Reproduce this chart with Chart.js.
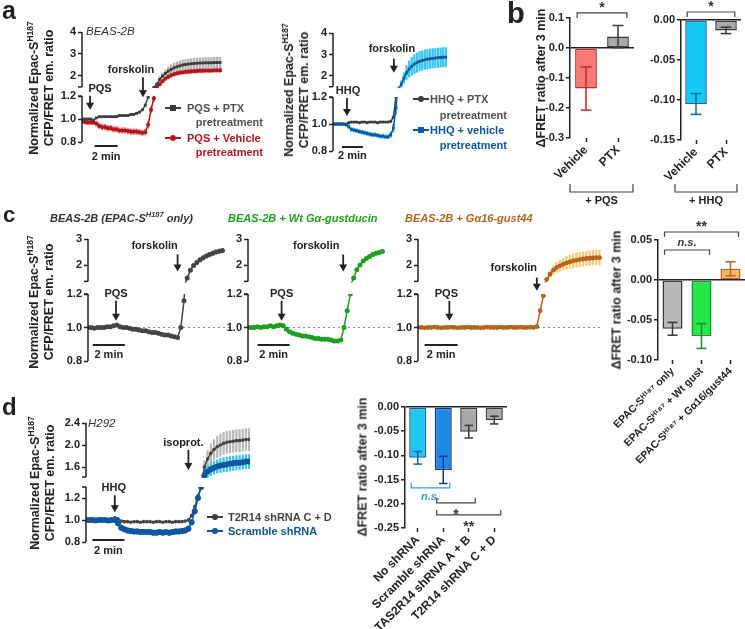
<!DOCTYPE html>
<html>
<head>
<meta charset="utf-8">
<title>Epac-S H187 FRET responses</title>
<script src="https://cdn.jsdelivr.net/npm/chart.js@4.4.1/dist/chart.umd.min.js"></script>
<style>
  html, body { margin: 0; padding: 0; background: #fff; }
  #fig { position: relative; width: 745px; height: 629px; overflow: hidden; font-family: "Liberation Sans", Arial, sans-serif; }
  #fig canvas { position: absolute; left: 0; top: 0; }
  .tx { position: absolute; white-space: nowrap; font-weight: bold; font-size: 11px; line-height: 1; color: #222; }
  .vt { position: absolute; white-space: nowrap; font-weight: bold; font-size: 12.5px; line-height: 15px; color: #222; text-align: center; }
  sup { font-size: 0.68em; line-height: 0; vertical-align: 0.55em; }
  .mk { position: absolute; width: 16px; height: 2px; }
  .mk i { position: absolute; left: 5px; top: -2px; width: 6px; height: 6px; background: inherit; }
  .mk i.o { border-radius: 50%; }
</style>
</head>
<body>
<div id="fig"></div>
<script>
// ---- data ----
// a: BEAS-2B, one read every 0.25 min
const A_STEP = 0.25;
const A1_PTX = [1.00,1.00,1.00,1.00,0.99,1.01,1.02,1.02,1.02,1.02,
  1.02,1.02,1.02,1.03,1.03,1.03,1.03,1.04,1.04,1.05,
  1.06,1.08,1.12,1.19,1.35,1.48,1.62,1.85,2.00,2.12,
  2.22,2.30,2.37,2.42,2.46,2.50,2.52,2.54,2.56,2.57,
  2.58,2.59,2.59,2.60,2.60,2.60,2.61,2.61,2.61];
const A1_PTX_ERR = [0.008,0.008,0.008,0.008,0.008,0.008,0.008,0.008,0.008,0.008,
  0.008,0.008,0.008,0.008,0.008,0.008,0.008,0.008,0.008,0.008,
  0.008,0.008,0.01,0.012,0.02,0.04,0.08,0.12,0.15,0.17,
  0.19,0.2,0.21,0.22,0.22,0.23,0.23,0.23,0.23,0.24,
  0.24,0.24,0.24,0.24,0.24,0.24,0.24,0.24,0.24];
const A1_VEH = [0.98,0.975,0.97,0.97,0.97,0.96,0.94,0.93,0.93,0.92,
  0.92,0.91,0.91,0.90,0.90,0.90,0.895,0.89,0.89,0.89,
  0.885,0.88,0.885,0.95,1.08,1.18,1.50,1.62,1.76,1.88,
  1.96,2.03,2.08,2.12,2.15,2.17,2.19,2.20,2.21,2.22,
  2.23,2.24,2.24,2.25,2.25,2.25,2.26,2.26,2.26];
const A1_VEH_ERR = [0.02,0.02,0.02,0.02,0.02,0.022,0.024,0.025,0.025,0.025,
  0.025,0.025,0.025,0.025,0.025,0.025,0.025,0.025,0.025,0.025,
  0.025,0.025,0.025,0.03,0.03,0.03,0.06,0.07,0.08,0.08,
  0.09,0.09,0.09,0.09,0.1,0.1,0.1,0.1,0.1,0.1,
  0.1,0.1,0.1,0.1,0.1,0.1,0.1,0.1,0.1];
const A2_PTX = [1.00,1.00,1.00,1.00,1.00,1.00,1.01,1.015,1.015,1.015,
  1.01,1.015,1.015,1.01,1.015,1.015,1.015,1.01,1.015,1.015,
  1.015,1.015,1.02,1.05,1.2];
const A2_PTX_ERR = [0.006,0.006,0.006,0.006,0.006,0.006,0.006,0.006,0.006,0.006,
  0.006,0.006,0.006,0.006,0.006,0.006,0.006,0.006,0.006,0.006,
  0.006,0.006,0.008,0.01,0.02];
const A2_VEH = [1.00,1.00,1.00,1.00,1.00,0.995,0.98,0.96,0.955,0.95,
  0.945,0.94,0.935,0.93,0.925,0.92,0.92,0.915,0.91,0.91,
  0.905,0.905,0.92,0.97,1.12,1.40,1.62,1.90,2.15,2.32,
  2.45,2.55,2.62,2.68,2.72,2.75,2.78,2.80,2.82,2.83,
  2.85,2.86,2.87,2.87];
const A2_VEH_ERR = [0.01,0.01,0.01,0.01,0.01,0.012,0.015,0.015,0.015,0.015,
  0.015,0.015,0.015,0.015,0.015,0.015,0.015,0.015,0.015,0.015,
  0.015,0.015,0.02,0.03,0.05,0.1,0.15,0.25,0.32,0.38,
  0.42,0.44,0.45,0.45,0.45,0.45,0.45,0.45,0.45,0.45,
  0.45,0.45,0.45,0.45];

// c: one read every 0.2 min
const C_STEP = 0.2;
const C1_ONLY = [1.0,1.0,0.995,1.0,1.0,1.0,1.005,1.005,1.01,1.015,
  1.005,1.0,1.0,0.995,0.99,0.99,0.985,0.98,0.98,0.975,
  0.97,0.97,0.965,0.96,0.955,0.955,0.95,0.945,0.94,1.0,
  1.16,1.5,1.8,1.98,2.1,2.2,2.28,2.35,2.4,2.45,
  2.5,2.53,2.56];
const C1_ERR = [0.005,0.005,0.005,0.005,0.005,0.005,0.005,0.005,0.005,0.005,
  0.005,0.005,0.005,0.005,0.005,0.005,0.005,0.005,0.005,0.005,
  0.005,0.005,0.005,0.005,0.005,0.005,0.005,0.005,0.005,0.005,
  0.01,0.04,0.06,0.07,0.08,0.08,0.08,0.08,0.08,0.08,
  0.08,0.08,0.08];
const C2_WT = [1.0,1.0,1.0,1.005,1.0,1.005,1.005,1.01,1.005,1.01,
  1.015,1.01,0.99,0.975,0.965,0.96,0.955,0.95,0.95,0.945,
  0.94,0.935,0.935,0.93,0.93,0.93,0.925,0.92,0.92,0.925,
  1.0,1.1,1.2,1.5,1.82,2.0,2.15,2.25,2.33,2.4,
  2.45,2.48,2.52];
const C2_ERR = [0.006,0.006,0.006,0.006,0.006,0.006,0.006,0.006,0.006,0.006,
  0.006,0.006,0.006,0.006,0.006,0.006,0.006,0.006,0.006,0.006,
  0.006,0.006,0.006,0.006,0.006,0.006,0.006,0.006,0.006,0.006,
  0.01,0.01,0.01,0.04,0.05,0.05,0.06,0.06,0.06,0.06,
  0.06,0.06,0.06];
const C3_G16 = [1.0,1.0,0.998,1.0,1.0,1.002,1.0,0.998,1.0,1.0,
  1.002,1.0,0.998,1.0,1.0,1.002,1.0,1.0,1.0,0.998,
  1.0,1.002,1.0,1.0,1.0,1.002,1.0,1.0,1.002,1.0,
  1.0,1.002,1.0,1.0,1.002,1.0,1.005,1.1,1.19,1.45,
  1.65,1.8,1.9,1.97,2.03,2.08,2.12,2.16,2.19,2.21,
  2.23,2.25,2.26,2.27,2.28,2.28];
const C3_ERR = [0.004,0.004,0.004,0.004,0.004,0.004,0.004,0.004,0.004,0.004,
  0.004,0.004,0.004,0.004,0.004,0.004,0.004,0.004,0.004,0.004,
  0.004,0.004,0.004,0.004,0.004,0.004,0.004,0.004,0.004,0.004,
  0.004,0.004,0.004,0.004,0.004,0.004,0.005,0.01,0.01,0.08,
  0.12,0.16,0.2,0.22,0.24,0.25,0.26,0.27,0.28,0.28,
  0.28,0.28,0.28,0.28,0.28,0.28];

// d: H292, one read every 0.2 min
const D_STEP = 0.2;
const D_SCR = [1.0,1.0,1.0,0.995,1.0,1.0,1.0,0.995,1.0,1.0,
  0.97,0.93,0.915,0.905,0.9,0.895,0.895,0.89,0.89,0.89,
  0.89,0.885,0.885,0.89,0.885,0.89,0.885,0.89,0.895,0.895,
  0.9,0.905,0.92,0.98,1.08,1.2,1.3,1.45,1.52,1.56,
  1.59,1.61,1.63,1.64,1.65,1.66,1.67,1.68,1.68,1.69,
  1.7,1.7];
const D_SCR_ERR = [0.01,0.01,0.01,0.01,0.01,0.01,0.01,0.01,0.01,0.01,
  0.025,0.025,0.025,0.025,0.025,0.025,0.025,0.025,0.025,0.025,
  0.025,0.025,0.025,0.025,0.025,0.025,0.025,0.025,0.025,0.025,
  0.025,0.025,0.025,0.025,0.025,0.025,0.025,0.1,0.11,0.12,
  0.12,0.12,0.13,0.13,0.13,0.13,0.13,0.13,0.13,0.13,
  0.13,0.13];
const D_T2R = [1.0,1.0,1.0,0.995,1.0,1.0,1.0,0.995,1.0,1.02,
  1.01,0.99,0.985,0.985,0.98,0.985,0.985,0.98,0.985,0.985,
  0.985,0.98,0.985,0.985,0.98,0.985,0.985,0.98,0.985,0.985,
  0.985,0.99,1.0,1.04,1.12,1.22,1.3,1.6,1.75,1.85,
  1.92,1.97,2.0,2.03,2.05,2.06,2.07,2.08,2.08,2.09,
  2.1,2.1];
const D_T2R_ERR = [0.01,0.01,0.01,0.01,0.01,0.01,0.01,0.01,0.01,0.01,
  0.01,0.01,0.01,0.01,0.01,0.01,0.01,0.01,0.01,0.01,
  0.01,0.01,0.01,0.01,0.01,0.01,0.01,0.01,0.01,0.01,
  0.01,0.01,0.01,0.01,0.01,0.01,0.01,0.12,0.15,0.17,
  0.18,0.19,0.2,0.2,0.2,0.2,0.2,0.2,0.2,0.2,
  0.2,0.2];

// bar panels: delta FRET after 3 min (mean, SEM)
const B_CATS = ['Vehicle', 'PTX'];
const B1_PQS = [-0.135, 0.038];
const B1_ERR = [0.072, 0.037];
const B2_HHQ = [-0.105, -0.013];
const B2_ERR = [0.013, 0.004];
const C4_CATS = ['EPAC-S\u1D34\u00B9\u2078\u2077 only', 'EPAC-S\u1D34\u00B9\u2078\u2077 + Wt gust', 'EPAC-S\u1D34\u00B9\u2078\u2077 + G\u03B116/gust44'];
const C4_VALS = [-0.061, -0.070, 0.014];
const C4_ERR = [0.008, 0.0155, 0.0088];
const D2_CATS = ['No shRNA', 'Scramble shRNA', 'TAS2R14 shRNA A + B', 'T2R14 shRNA C + D'];
const D2_VALS = [-0.105, -0.130, -0.051, -0.027];
const D2_ERR = [0.013, 0.028, 0.013, 0.008];

// tick labels
const LOW_TICKS = [0.8, 1.0, 1.2];
const LOW_LABELS = ['0.8', '1.0', '1.2'];
const A_UP_TICKS = [2, 3, 4];
const A_UP_LABELS = ['2', '3', '4'];
const C_UP_TICKS = [2, 3];
const C_UP_LABELS = ['2', '3'];
const D_UP_TICKS = [1.6, 2.0, 2.4];
const D_UP_LABELS = ['1.6', '2.0', '2.4'];
const B1_TICKS = [-0.3, -0.2, -0.1, 0, 0.1];
const B1_LABELS = ['-0.3', '-0.2', '-0.1', '0.0', '0.1'];
const B2_TICKS = [-0.15, -0.1, -0.05, 0];
const B2_LABELS = ['-0.15', '-0.10', '-0.05', '0.00'];
const C4_TICKS = [-0.1, -0.05, 0, 0.05];
const C4_LABELS = ['-0.10', '-0.05', '0.00', '0.05'];
const D2_TICKS = [-0.25, -0.2, -0.15, -0.1, -0.05, 0];
const D2_LABELS = ['-0.25', '-0.20', '-0.15', '-0.10', '-0.05', '0.00'];
const BASELINE = 1.0;
const SCALE_MIN = 2;

// ---- colours ----
const GRAY = '#3d3d3d', GRAY_ERR = '#b3b3b3';
const RED = '#b5161b', RED_ERR = '#f28b8b';
const BLUE = '#0f56a0', CYAN_ERR = '#36c6f2';
const GREEN = '#1e9e1e', GREEN_ERR = '#5cf05c';
const ORANGE = '#b5651d', ORANGE_ERR = '#f9c97a';

const fig = document.getElementById('fig');
const W = 745, H = 629, YW = 40, INK = '#222';
const FONT = '"Liberation Sans", Arial, sans-serif';
Chart.defaults.font.family = FONT;
Chart.defaults.font.size = 11;
Chart.defaults.font.weight = 'bold';
Chart.defaults.color = INK;

function newCanvas() {
  const c = document.createElement('canvas');
  c.width = W; c.height = H;
  fig.appendChild(c);
  return c;
}

function line(ctx, x1, y1, x2, y2) {
  ctx.beginPath(); ctx.moveTo(x1, y1); ctx.lineTo(x2, y2); ctx.stroke();
}

function label(ctx, s, x, y, opt = {}) {
  ctx.save();
  ctx.font = (opt.italic ? 'italic ' : '') + 'bold ' + (opt.size || 11) + 'px ' + FONT;
  ctx.fillStyle = opt.color || INK;
  ctx.textAlign = opt.align || 'center';
  ctx.textBaseline = 'middle';
  ctx.fillText(s, x, y);
  ctx.restore();
}

function arrow(ctx, x, yTip, len) {
  ctx.save();
  ctx.strokeStyle = INK; ctx.fillStyle = INK; ctx.lineWidth = 1.8;
  line(ctx, x, yTip - len, x, yTip - 6);
  ctx.beginPath();
  ctx.moveTo(x - 4, yTip - 7); ctx.lineTo(x + 4, yTip - 7); ctx.lineTo(x, yTip);
  ctx.closePath(); ctx.fill();
  ctx.restore();
}

function yAxis(a, stackWeight, weight) {
  return {
    type: 'linear', position: 'left', stack: 'y', stackWeight: stackWeight, weight: weight,
    min: a.min, max: a.max, beginAtZero: false,
    border: { display: false },
    grid: { display: true, drawOnChartArea: false, tickLength: 4, tickColor: INK, tickWidth: 1.5 },
    ticks: { autoSkip: false, padding: 2, color: INK, callback: (v, i) => a.labels[i] },
    afterBuildTicks: s => { s.ticks = a.ticks.map(v => ({ value: v })); },
    afterFit: s => { s.width = YW; s.paddingTop = 0; s.paddingBottom = 0; }
  };
}

// time course with a broken y axis: two stacked scales, each clipped to its own segment
function timeChart(o) {
  const segs = { yLow: o.low.seg, yUp: o.up.seg };
  const datasets = [];
  o.series.forEach(s => {
    ['yLow', 'yUp'].forEach(ax => {
      datasets.push({
        type: 'line', yAxisID: ax, order: 1,
        data: s.vals.map((v, i) => ({ x: i * o.step, y: v })),
        borderColor: s.color, backgroundColor: s.color, borderWidth: s.lw || 1.5,
        pointStyle: s.shape || 'circle', pointRadius: s.r || 2, pointBorderWidth: 0
      });
      datasets.push({
        type: 'bar', yAxisID: ax, order: 5, grouped: false, barThickness: 1.6,
        data: s.vals.map((v, i) => ({ x: i * o.step, y: [v - s.err[i], v + s.err[i]] })),
        backgroundColor: s.errColor
      });
    });
  });
  if (o.baseline !== undefined) {
    datasets.push({
      type: 'line', yAxisID: 'yLow', order: 9,
      data: [{ x: 0, y: o.baseline }, { x: o.xMax, y: o.baseline }],
      borderColor: '#8c8c8c', borderWidth: 1.2, borderDash: [2, 3], pointRadius: 0
    });
  }
  const [L, R, T, B] = o.frame;
  return new Chart(newCanvas(), {
    type: 'line',
    data: { datasets },
    options: {
      responsive: false, animation: false, devicePixelRatio: 1, events: [],
      layout: { padding: { left: L - YW, right: W - R, top: T, bottom: H - B } },
      plugins: { legend: { display: false }, tooltip: { enabled: false } },
      scales: {
        x: { type: 'linear', min: 0, max: o.xMax, display: false, offset: false },
        yLow: yAxis(o.low, o.low.h, 0),
        yUp: yAxis(o.up, o.up.h, 1)
      }
    },
    plugins: [{
      id: 'brokenAxis',
      beforeDatasetDraw(chart, args) {
        const sc = args.meta.yScale, seg = segs[args.meta.yAxisID], a = chart.chartArea;
        const top = sc.getPixelForValue(seg[1]), bot = sc.getPixelForValue(seg[0]);
        chart.ctx.save();
        chart.ctx.beginPath();
        chart.ctx.rect(a.left - 3, top - 1, a.right - a.left + 6, bot - top + 2);
        chart.ctx.clip();
      },
      afterDatasetDraw(chart) { chart.ctx.restore(); },
      afterDraw(chart) {
        const ctx = chart.ctx, a = chart.chartArea, xs = chart.scales.x;
        ctx.save();
        ctx.strokeStyle = INK; ctx.lineWidth = 1.5;
        [['yLow', 1], ['yUp', 0]].forEach(([id, brk]) => {
          const sc = chart.scales[id], s = segs[id];
          line(ctx, a.left, sc.getPixelForValue(s[0]), a.left, sc.getPixelForValue(s[1]));
          const yb = sc.getPixelForValue(s[brk]);
          line(ctx, a.left - 4, yb, a.left, yb);
        });
        ctx.restore();
        o.arrows.forEach(ar => {
          const x = xs.getPixelForValue(ar.t);
          const yTip = chart.scales[ar.ax].getPixelForValue(ar.tip);
          arrow(ctx, x, yTip, ar.len);
          label(ctx, ar.text, x + (ar.dx || 0), yTip - ar.len - (ar.gap || 7));
        });
        const sb = o.scaleBar;
        const x0 = xs.getPixelForValue(sb.t0), x1 = xs.getPixelForValue(sb.t0 + SCALE_MIN);
        ctx.save();
        ctx.strokeStyle = INK; ctx.lineWidth = 2;
        line(ctx, x0, a.bottom + sb.dy, x1, a.bottom + sb.dy);
        ctx.restore();
        label(ctx, SCALE_MIN + ' min', (x0 + x1) / 2, a.bottom + sb.dy + sb.ldy);
      }
    }]
  });
}

function barChart(o) {
  const [L, R, T, B] = o.frame;
  const xh = Math.min(110, H - B);   // room for the slanted category labels
  return new Chart(newCanvas(), {
    type: 'bar',
    data: {
      labels: o.cats,
      datasets: [{
        data: o.vals, backgroundColor: o.fills, borderColor: o.lines, borderWidth: 1.5,
        borderSkipped: false, categoryPercentage: 1, barPercentage: o.bw
      }]
    },
    options: {
      responsive: false, animation: false, devicePixelRatio: 1, events: [],
      layout: { padding: { left: L - YW, right: W - R, top: T, bottom: H - B - xh } },
      plugins: { legend: { display: false }, tooltip: { enabled: false } },
      scales: {
        x: {
          offset: true, border: { display: false },
          grid: { display: true, drawOnChartArea: false, offset: false, tickLength: 4, tickColor: INK, tickWidth: 1.5 },
          ticks: { autoSkip: false, minRotation: 45, maxRotation: 45, padding: 1, color: INK, font: { size: o.catSize } },
          afterFit: s => { s.height = xh; s.paddingLeft = 0; s.paddingRight = 0; }
        },
        y: {
          min: o.y.min, max: o.y.max, beginAtZero: false,
          border: { display: true, color: INK, width: 1.5 },
          grid: {
            color: c => (c.tick && Math.abs(c.tick.value) < 1e-9 ? INK : 'rgba(0,0,0,0)'),
            lineWidth: 1.5, tickLength: 4, tickColor: INK, tickWidth: 1.5
          },
          ticks: { autoSkip: false, padding: 2, color: INK, callback: (v, i) => o.y.labels[i] },
          afterBuildTicks: s => { s.ticks = o.y.ticks.map(v => ({ value: v })); },
          afterFit: s => { s.width = YW; s.paddingTop = 0; s.paddingBottom = 0; }
        }
      }
    },
    plugins: [{
      id: 'errorBars',
      afterDatasetsDraw(chart) {
        const ctx = chart.ctx, ys = chart.scales.y, a = chart.chartArea;
        const bars = chart.getDatasetMeta(0).data;
        ctx.save();
        ctx.lineWidth = 1.5;
        bars.forEach((b, i) => {
          const y1 = ys.getPixelForValue(o.vals[i] + o.errs[i]);
          const y2 = ys.getPixelForValue(o.vals[i] - o.errs[i]);
          const hw = b.width * 0.25;
          ctx.strokeStyle = o.lines[i];
          line(ctx, b.x, y1, b.x, y2);
          line(ctx, b.x - hw, y1, b.x + hw, y1);
          line(ctx, b.x - hw, y2, b.x + hw, y2);
        });
        (o.sig || []).forEach(s => {
          const ba = bars[s.a], bb = bars[s.b];
          const x1 = ba.x - ba.width / 2 + 2, x2 = bb.x + bb.width / 2 - 2;
          const y = ys.getPixelForValue(s.y);
          const d = s.dir === 'up' ? -5 : 5;
          ctx.strokeStyle = s.color || '#444'; ctx.lineWidth = 1.2;
          ctx.beginPath();
          ctx.moveTo(x1, y + d); ctx.lineTo(x1, y); ctx.lineTo(x2, y); ctx.lineTo(x2, y + d);
          ctx.stroke();
          const star = s.text.indexOf('*') === 0;
          const ty = s.dir === 'up' ? y + 9 + (star ? 3 : 0) : y - 7 + (star ? 2 : 0);
          label(ctx, s.text, (x1 + x2) / 2, ty, { size: star ? 14 : 11, italic: !star, color: s.color || '#333' });
        });
        if (o.group) {
          const g = o.group, y = a.bottom + g.dy;
          const x1 = a.left + g.x0, x2 = a.right + g.x1;
          ctx.strokeStyle = '#444'; ctx.lineWidth = 1.2;
          ctx.beginPath();
          ctx.moveTo(x1, y - 8); ctx.lineTo(x1, y); ctx.lineTo(x2, y); ctx.lineTo(x2, y - 8);
          ctx.stroke();
          label(ctx, g.text, (x1 + x2) / 2, y + 9);
        }
        ctx.restore();
      }
    }]
  });
}

// ---- panel a ----
timeChart({
  frame: [82, 222, 32, 142], xMax: 12.17, step: A_STEP,
  up: { min: 1.09, max: 4, seg: [1.5, 4], ticks: A_UP_TICKS, labels: A_UP_LABELS, h: 64 },
  low: { min: 0.8, max: 1.2, seg: [0.8, 1.2], ticks: LOW_TICKS, labels: LOW_LABELS, h: 46 },
  series: [
    { vals: A1_PTX, err: A1_PTX_ERR, color: GRAY, errColor: GRAY_ERR, shape: 'rect', r: 2 },
    { vals: A1_VEH, err: A1_VEH_ERR, color: RED, errColor: RED_ERR, r: 2.1 }
  ],
  arrows: [
    { text: 'PQS', t: 0.7, ax: 'yLow', tip: 1.08, len: 14, dx: 10 },
    { text: 'forskolin', t: 5.3, ax: 'yLow', tip: 1.19, len: 20, dx: -12 }
  ],
  scaleBar: { t0: 1.1, dy: 4, ldy: 11 }
});

timeChart({
  frame: [333, 447, 33, 151], xMax: 10.86, step: A_STEP,
  up: { min: 1.02, max: 4, seg: [1.5, 4], ticks: A_UP_TICKS, labels: A_UP_LABELS, h: 64 },
  low: { min: 0.8, max: 1.2, seg: [0.8, 1.2], ticks: LOW_TICKS, labels: LOW_LABELS, h: 54 },
  series: [
    { vals: A2_VEH, err: A2_VEH_ERR, color: BLUE, errColor: CYAN_ERR, shape: 'rect', r: 2 },
    { vals: A2_PTX, err: A2_PTX_ERR, color: GRAY, errColor: GRAY_ERR, r: 1.6 }
  ],
  arrows: [
    { text: 'HHQ', t: 1.33, ax: 'yLow', tip: 1.06, len: 18, dx: 1 },
    { text: 'forskolin', t: 5.8, ax: 'yUp', tip: 2.15, len: 14, dx: -2, gap: 10 }
  ],
  scaleBar: { t0: 0.85, dy: -4, ldy: 9 }
});

// ---- panel b ----
barChart({
  frame: [570, 634, 18, 138], cats: B_CATS, vals: B1_PQS, errs: B1_ERR, bw: 0.68, catSize: 12,
  fills: ['#f57a76', '#a8a8a8'], lines: ['#c8262b', '#3a3a3a'],
  y: { min: -0.3, max: 0.1, ticks: B1_TICKS, labels: B1_LABELS },
  sig: [{ a: 0, b: 1, y: 0.117, text: '*' }],
  group: { text: '+ PQS', dy: 54, x0: 0, x1: -1 }
});
barChart({
  frame: [681, 741, 20, 140], cats: B_CATS, vals: B2_HHQ, errs: B2_ERR, bw: 0.72, catSize: 12,
  fills: ['#12c9f3', '#a8a8a8'], lines: ['#1267a6', '#3a3a3a'],
  y: { min: -0.15, max: 0, ticks: B2_TICKS, labels: B2_LABELS },
  sig: [{ a: 0, b: 1, y: 0.01, text: '*' }],
  group: { text: '+ HHQ', dy: 52, x0: -6, x1: -4 }
});

// ---- panel c ----
const C_UP = { min: 0.885, max: 3, seg: [1.37, 3], ticks: C_UP_TICKS, labels: C_UP_LABELS, h: 55 };
const C_LOW = { min: 0.8, max: 1.2, seg: [0.8, 1.2], ticks: LOW_TICKS, labels: LOW_LABELS, h: 67 };
timeChart({
  frame: [88, 230, 239, 361], xMax: 8.875, step: C_STEP, up: C_UP, low: C_LOW, baseline: BASELINE,
  series: [{ vals: C1_ONLY, err: C1_ERR, color: '#454545', errColor: '#a8a8a8', r: 2.5 }],
  arrows: [
    { text: 'PQS', t: 1.75, ax: 'yLow', tip: 1.04, len: 20, dx: 0 },
    { text: 'forskolin', t: 5.6, ax: 'yUp', tip: 1.75, len: 17, dx: -23, gap: 9 }
  ],
  scaleBar: { t0: 0.3, dy: -16, ldy: 10 }
});
timeChart({
  frame: [248, 390, 239, 361], xMax: 8.875, step: C_STEP, up: C_UP, low: C_LOW, baseline: BASELINE,
  series: [{ vals: C2_WT, err: C2_ERR, color: GREEN, errColor: GREEN_ERR, r: 2.5 }],
  arrows: [
    { text: 'PQS', t: 2.1, ax: 'yLow', tip: 1.04, len: 20, dx: 0 },
    { text: 'forskolin', t: 5.95, ax: 'yUp', tip: 1.75, len: 17, dx: -27, gap: 9 }
  ],
  scaleBar: { t0: 0.6, dy: -16, ldy: 10 }
});
timeChart({
  frame: [418, 602, 239, 361], xMax: 11.15, step: C_STEP, up: C_UP, low: C_LOW, baseline: BASELINE,
  series: [{ vals: C3_G16, err: C3_ERR, color: ORANGE, errColor: ORANGE_ERR, r: 2.4 }],
  arrows: [
    { text: 'PQS', t: 1.9, ax: 'yLow', tip: 1.04, len: 20, dx: -3 },
    { text: 'forskolin', t: 7.2, ax: 'yLow', tip: 1.22, len: 13, dx: -23, gap: 10 }
  ],
  scaleBar: { t0: 0.4, dy: -16, ldy: 10 }
});
barChart({
  frame: [658, 745, 240, 360], cats: C4_CATS, vals: C4_VALS, errs: C4_ERR, bw: 0.69, catSize: 10.5,
  fills: ['#b9b9b9', '#26e64a', '#f7b65e'], lines: ['#3a3a3a', '#1a8f2a', '#b5651d'],
  y: { min: -0.1, max: 0.05, ticks: C4_TICKS, labels: C4_LABELS },
  sig: [
    { a: 0, b: 2, y: 0.06, text: '**' },
    { a: 0, b: 1, y: 0.0375, text: 'n.s.' }
  ]
});

// ---- panel d ----
timeChart({
  frame: [86, 250, 423, 542], xMax: 10.25, step: D_STEP,
  up: { min: 1.24, max: 2.4, seg: [1.42, 2.4], ticks: D_UP_TICKS, labels: D_UP_LABELS, h: 64 },
  low: { min: 0.8, max: 1.3, seg: [0.8, 1.3], ticks: LOW_TICKS, labels: LOW_LABELS, h: 55 },
  series: [
    { vals: D_SCR, err: D_SCR_ERR, color: BLUE, errColor: CYAN_ERR, r: 3 },
    { vals: D_T2R, err: D_T2R_ERR, color: '#454545', errColor: '#b8b8b8', r: 1.8 }
  ],
  arrows: [
    { text: 'HHQ', t: 1.8, ax: 'yLow', tip: 1.07, len: 17, dx: -1 },
    { text: 'isoprot.', t: 6.4, ax: 'yUp', tip: 1.55, len: 20, dx: -5 }
  ],
  scaleBar: { t0: 0.4, dy: -2, ldy: 11 }
});
barChart({
  frame: [405, 507, 407, 528], cats: D2_CATS, vals: D2_VALS, errs: D2_ERR, bw: 0.67, catSize: 12,
  fills: ['#1fc7f2', '#1e88e5', '#a8a8a8', '#a8a8a8'], lines: ['#1267a6', '#18348a', '#3a3a3a', '#3a3a3a'],
  y: { min: -0.25, max: 0, ticks: D2_TICKS, labels: D2_LABELS },
  sig: [
    { a: 0, b: 1, y: -0.167, dir: 'up', text: 'n.s.', color: '#2a9fe0' },
    { a: 1, b: 2, y: -0.198, dir: 'up', text: '*' },
    { a: 1, b: 3, y: -0.223, dir: 'up', text: '**' }
  ]
});

// ---- text laid over the charts ----
function place(html, x, y, st = {}) {
  const d = document.createElement('div');
  d.className = 'tx';
  d.innerHTML = html;
  const ax = { l: '0', c: '-50%', r: '-100%' }[st.anchor || 'l'];
  d.style.left = x + 'px';
  d.style.top = y + 'px';
  d.style.transform = 'translate(' + ax + ',-50%)';
  if (st.size) d.style.fontSize = st.size + 'px';
  if (st.color) d.style.color = st.color;
  if (st.italic) d.style.fontStyle = 'italic';
  if (st.weight) d.style.fontWeight = st.weight;
  fig.appendChild(d);
  return d;
}

function vtitle(html, cx, cy) {
  const d = document.createElement('div');
  d.className = 'vt';
  d.innerHTML = html;
  d.style.left = cx + 'px';
  d.style.top = cy + 'px';
  d.style.transform = 'translate(-50%,-50%) rotate(-90deg)';
  fig.appendChild(d);
}

function legendMark(x, y, color, round) {
  const m = document.createElement('div');
  m.className = 'mk';
  m.style.left = x + 'px';
  m.style.top = (y - 1) + 'px';
  m.style.background = color;
  m.innerHTML = '<i class="' + (round ? 'o' : '') + '"></i>';
  fig.appendChild(m);
}

place('a', 2, 9.5, { size: 25 });
place('b', 507, 12.5, { size: 29 });
place('c', 3, 215, { size: 22 });
place('d', 2, 406.5, { size: 24 });

const EPAC_TITLE = 'Normalized Epac-S<sup>H187</sup><br>CFP/FRET em. ratio';
const DFRET_TITLE = '\u0394FRET ratio after 3 min';
vtitle(EPAC_TITLE, 42, 88);
vtitle(EPAC_TITLE, 297, 90);
vtitle(EPAC_TITLE, 42, 302);
vtitle(EPAC_TITLE, 43, 483);
vtitle(DFRET_TITLE, 541, 78);
vtitle(DFRET_TITLE, 617, 300);
vtitle(DFRET_TITLE, 363, 467);

place('BEAS-2B', 86, 32, { italic: true, weight: 'normal', size: 11.5, color: '#333' });
place('H292', 88, 424, { italic: true, weight: 'normal', size: 11.5, color: '#333' });

legendMark(165, 108, GRAY, false);
place('PQS + PTX', 187, 108, { color: '#505050' });
place('pretreatment', 263, 122, { anchor: 'r', color: '#505050' });
legendMark(165, 138, RED, true);
place('PQS + Vehicle', 187, 138, { color: RED });
place('pretreatment', 263, 152, { anchor: 'r', color: RED });

legendMark(413, 99, GRAY, true);
place('HHQ + PTX', 430, 99, { color: '#505050' });
place('pretreatment', 507, 115, { anchor: 'r', color: '#505050' });
legendMark(413, 130, BLUE, false);
place('HHQ + vehicle', 430, 130, { color: BLUE });
place('pretreatment', 507, 145, { anchor: 'r', color: BLUE });

legendMark(207, 517, GRAY, true);
place('T2R14 shRNA C + D', 228, 517, { color: '#444' });
legendMark(207, 531, BLUE, true);
place('Scramble shRNA', 228, 531, { color: BLUE });

place('<i>BEAS-2B (EPAC-S<sup>H187</sup> only)</i>', 50, 218, { color: '#333' });
place('<i>BEAS-2B + Wt G\u03B1-gustducin</i>', 228, 218, { color: '#1aa31a' });
place('<i>BEAS-2B + G\u03B116-gust44</i>', 405, 218, { color: ORANGE });
</script>
</body>
</html>
